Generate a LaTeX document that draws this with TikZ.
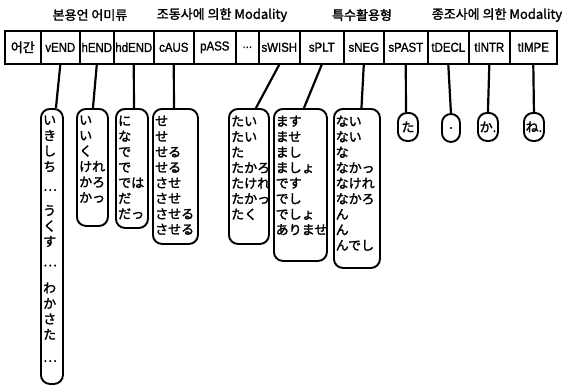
\documentclass[tikz,border=0pt]{standalone}
\usepackage{fontspec}
\newfontfamily\kr[FakeBold=1.5]{Noto Sans CJK KR}
\newfontfamily\jp[FakeBold=1.8]{Noto Sans CJK JP}
\newfontfamily\lab[FakeStretch=0.88,FakeBold=1.2]{Liberation Sans}
\usetikzlibrary{calc}
\begin{document}
\begin{tikzpicture}[x=1pt,y=-1pt,
  hdr/.style={font=\kr\fontsize{13}{15}\selectfont, inner sep=0pt},
  rowbox/.style={draw, line width=1.6pt, minimum height=33, inner sep=0pt, anchor=north west, font=\lab\fontsize{13}{15}\selectfont},
  ebox/.style={draw, line width=1.9pt, rounded corners=9, inner sep=0pt, anchor=north west},
  jtext/.style={font=\jp\fontsize{13}{15.5}\selectfont, align=left, inner sep=0pt, anchor=north west},
  markbox/.style={font=\jp\fontsize{13}{15.5}\selectfont},
  conn/.style={line width=2.2pt}]
\fill[white] (0,0) rectangle (565,386);
\useasboundingbox (0,0) rectangle (565,386);

% headers
\node[hdr] (h1) at (90,15) {본용언 어미류};
\node[hdr] (h2) at (222,15) {조동사에 의한 Modality};
\node[hdr] (h3) at (362,15) {특수활용형};
\node[hdr] (h4) at (497,15) {종조사에 의한 Modality};

% row of category boxes
\node[rowbox, minimum width=36] (stem) at (4,30) {\kr 어간};
\node[rowbox, minimum width=39] (vend) at (40,30) {vEND};
\node[rowbox, minimum width=34] (hend) at (79,30) {hEND};
\node[rowbox, minimum width=40] (hdend) at (113,30) {hdEND};
\node[rowbox, minimum width=40] (caus) at (153,30) {cAUS};
\node[rowbox, minimum width=42] (pass) at (193,30) {pASS};
\node[rowbox, minimum width=23] (dots) at (235,30) {...};
\node[rowbox, minimum width=41] (swish) at (258,30) {sWISH};
\node[rowbox, minimum width=44] (splt) at (299,30) {sPLT};
\node[rowbox, minimum width=40] (sneg) at (343,30) {sNEG};
\node[rowbox, minimum width=44] (spast) at (383,30) {sPAST};
\node[rowbox, minimum width=41] (tdecl) at (427,30) {tDECL};
\node[rowbox, minimum width=41] (tintr) at (468,30) {tINTR};
\node[rowbox, minimum width=47] (timpe) at (509,30) {tIMPE};

% ending boxes
\node[ebox, minimum width=22, minimum height=275] (e1) at (40,108) {};
\node[ebox, minimum width=31, minimum height=117] (e2) at (76,108) {};
\node[ebox, minimum width=32, minimum height=119] (e3) at (115,108) {};
\node[ebox, minimum width=45, minimum height=135] (e4) at (152,108) {};
\node[ebox, minimum width=40, minimum height=135] (e5) at (228,108) {};
\node[ebox, minimum width=53, minimum height=152] (e6) at (273,108) {};
\node[ebox, minimum width=46, minimum height=159] (e7) at (333,108) {};
\node[ebox, markbox, minimum width=20, minimum height=28] (e8) at (397,112) {た};
\node[ebox, markbox, minimum width=18, minimum height=28] (e9) at (441,113) {.};
\node[ebox, markbox, minimum width=20, minimum height=28] (e10) at (477,112) {か.};
\node[ebox, markbox, minimum width=20, minimum height=28] (e11) at (523,112) {ね.};

% texts in the ending boxes
\node[jtext] (t1) at ($(e1.north west)+(3,7.5)$) {い\\き\\し\\ち\\[4pt]…\\[9pt]う\\く\\す\\[4.5pt]…\\[11pt]わ\\か\\さ\\た\\[7pt]…};
\node[jtext] (t2) at ($(e2.north west)+(3,7.5)$) {い\\い\\く\\けれ\\かろ\\かっ};
\node[jtext] (t3) at ($(e3.north west)+(3,7.5)$) {に\\な\\で\\で\\では\\だ\\だっ};
\node[jtext] (t4) at ($(e4.north west)+(3,7.5)$) {せ\\せ\\せる\\せる\\させ\\させ\\させる\\させる};
\node[jtext] (t5) at ($(e5.north west)+(3,7.5)$) {たい\\たい\\た\\たかろ\\たけれ\\たかっ\\たく};
\node[jtext] (t6) at ($(e6.north west)+(2.5,7.5)$) {ます\\ませ\\まし\\ましょ\\です\\でし\\でしょ\\ありませ};
\node[jtext] (t7) at ($(e7.north west)+(2.5,7.5)$) {ない\\ない\\な\\なかっ\\なけれ\\なかろ\\ん\\ん\\んでし};

% connectors
\draw[conn] (vend.south) -- ([xshift=4]e1.north);
\draw[conn] (hend.south) -- ([xshift=0.5]e2.north);
\draw[conn] (hdend.south) -- ([xshift=2]e3.north);
\draw[conn] (caus.south) -- ([xshift=-1.5]e4.north);
\draw[conn] (swish.south) -- ([xshift=7]e5.north);
\draw[conn] (splt.south) -- ([xshift=3.5]e6.north);
\draw[conn] (sneg.south) -- ([xshift=4.5]e7.north);
\draw[conn] (spast.south) -- ([xshift=-2]e8.north);
\draw[conn] (tdecl.south) -- (e9.north);
\draw[conn] (tintr.south) -- (e10.north);
\draw[conn] (timpe.south) -- (e11.north);
\end{tikzpicture}
\end{document}
